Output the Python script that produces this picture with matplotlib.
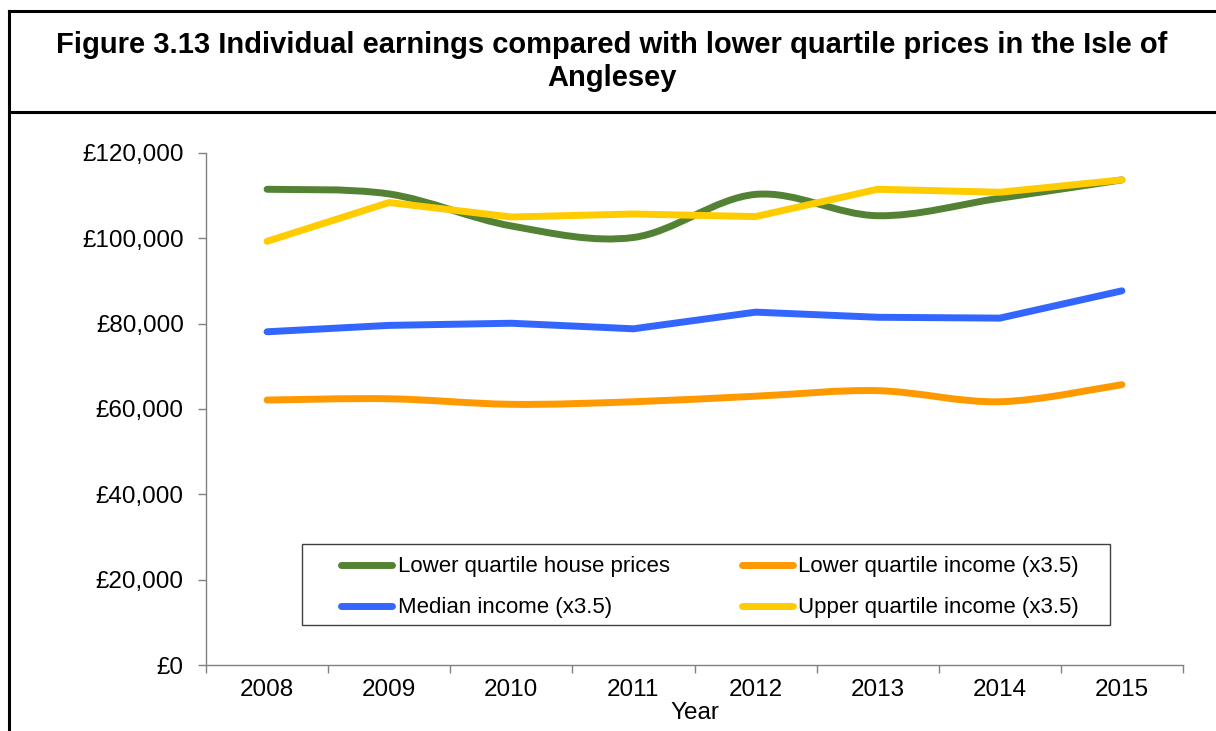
import matplotlib
matplotlib.use("Agg")
import matplotlib.pyplot as plt
from matplotlib.path import Path
from matplotlib.patches import PathPatch, Rectangle
from matplotlib.lines import Line2D
from matplotlib.legend_handler import HandlerLine2D
from matplotlib.ticker import FuncFormatter, FixedLocator

plt.rcParams['font.family'] = ['Liberation Sans', 'DejaVu Sans']

# Data
years = ['2008', '2009', '2010', '2011', '2012', '2013', '2014', '2015']
house_lq = [111500, 110400, 102900, 100200, 110300, 105300, 109400, 113700]
income_lq = [62100, 62400, 61100, 61700, 63000, 64300, 61700, 65700]
income_med = [78100, 79600, 80100, 78800, 82700, 81500, 81300, 87700]
income_uq = [99300, 108400, 105000, 105700, 105100, 111500, 110800, 113700]

labels = ['Lower quartile house prices', 'Lower quartile income (x3.5)',
          'Median income (x3.5)', 'Upper quartile income (x3.5)']
colours = ['#548235', '#FF9900', '#3366FF', '#FFCC00']


def smooth_path(xs, ys):
    # Excel style smoothed line: cubic bezier through every point
    verts = [(xs[0], ys[0])]
    codes = [Path.MOVETO]
    n = len(xs)
    for i in range(n - 1):
        x0, y0 = (xs[i - 1], ys[i - 1]) if i > 0 else (xs[i], ys[i])
        x3, y3 = (xs[i + 2], ys[i + 2]) if i + 2 < n else (xs[i + 1], ys[i + 1])
        c1 = (xs[i] + (xs[i + 1] - x0) / 6.0, ys[i] + (ys[i + 1] - y0) / 6.0)
        c2 = (xs[i + 1] - (x3 - xs[i]) / 6.0, ys[i + 1] - (y3 - ys[i]) / 6.0)
        verts += [c1, c2, (xs[i + 1], ys[i + 1])]
        codes += [Path.CURVE4] * 3
    return Path(verts, codes)


class PaddedLine(HandlerLine2D):
    # legend line that leaves some blank space before it, like Excel does
    def create_artists(self, legend, orig_handle, xdescent, ydescent,
                       width, height, fontsize, trans):
        arts = super().create_artists(legend, orig_handle, xdescent, ydescent,
                                      width, height, fontsize, trans)
        yy = arts[0].get_ydata()[0]
        arts[0].set_data([-xdescent + 0.342 * width, -xdescent + width], [yy, yy])
        return arts


W, H = 1216, 731
fig = plt.figure(figsize=(W / 100, H / 100), dpi=100)
ax = fig.add_axes([206 / W, 1 - 665 / H, 977 / W, 512 / H])

x = list(range(len(years)))
lw = 5.0

# smoothed series
for ys, c in [(house_lq, colours[0]), (income_lq, colours[1])]:
    patch = PathPatch(smooth_path(x, ys), facecolor='none', edgecolor=c,
                      lw=lw, capstyle='round', joinstyle='round', zorder=3)
    ax.add_patch(patch)

# straight series
ax.plot(x, income_med, color=colours[2], lw=lw, solid_capstyle='round',
        solid_joinstyle='round', zorder=3)
ax.plot(x, income_uq, color=colours[3], lw=lw, solid_capstyle='round',
        solid_joinstyle='round', zorder=4)

ax.set_xlim(-0.5, len(years) - 0.5)
ax.set_ylim(0, 120000)
ax.set_yticks(range(0, 120001, 20000))
ax.yaxis.set_major_formatter(FuncFormatter(lambda v, p: '£{:,.0f}'.format(v)))

ax.xaxis.set_major_locator(FixedLocator([i - 0.5 for i in range(len(years) + 1)]))
ax.xaxis.set_minor_locator(FixedLocator(x))
ax.set_xticklabels([])
ax.set_xticklabels(years, minor=True)
ax.tick_params(axis='x', which='major', length=6, width=1, color='#808080')
ax.tick_params(axis='x', which='minor', length=0, pad=10, labelsize=17.5)
ax.tick_params(axis='y', length=6, width=1, color='#808080', pad=10, labelsize=17.5)
ax.set_xlabel('Year', fontsize=17.5, labelpad=1)

for s in ['top', 'right']:
    ax.spines[s].set_visible(False)
for s in ['left', 'bottom']:
    ax.spines[s].set_color('#808080')
    ax.spines[s].set_linewidth(1)

# legend box drawn separately so it can be wider than the entries
leg_x0, leg_y0, leg_w, leg_h = 0.0983, 0.078, 0.827, 0.158
ax.add_patch(Rectangle((leg_x0, leg_y0), leg_w, leg_h, transform=ax.transAxes,
                       facecolor='white', edgecolor='#404040', lw=1, zorder=5))

# row-wise order as in the original legend (matplotlib fills columns first)
order = [0, 2, 1, 3]
handles = [Line2D([], [], color=colours[i], lw=lw, solid_capstyle='round') for i in order]
leg = ax.legend(handles, [labels[i] for i in order], ncol=2, loc='upper left',
                bbox_to_anchor=(leg_x0, leg_y0 + leg_h),
                fontsize=16, frameon=False,
                handlelength=3.5, handletextpad=0.25, labelspacing=0.9,
                columnspacing=2.05, borderpad=0.55, borderaxespad=0,
                handler_map={Line2D: PaddedLine()})
leg.set_zorder(6)

# title box
fig.add_artist(Line2D([9 / W, 1], [1 - 11 / H, 1 - 11 / H], color='black', lw=2.2))
fig.add_artist(Line2D([9 / W, 1], [1 - 111.5 / H, 1 - 111.5 / H], color='black', lw=2.2))
fig.add_artist(Line2D([9 / W, 9 / W], [0, 1 - 11 / H], color='black', lw=2.2))

fig.text(612 / W, 1 - 61.5 / H,
         'Figure 3.13 Individual earnings compared with lower quartile prices in the Isle of\nAnglesey',
         ha='center', va='center', fontsize=21, fontweight='bold', linespacing=1.25)

fig.savefig('out.png', dpi=100)
